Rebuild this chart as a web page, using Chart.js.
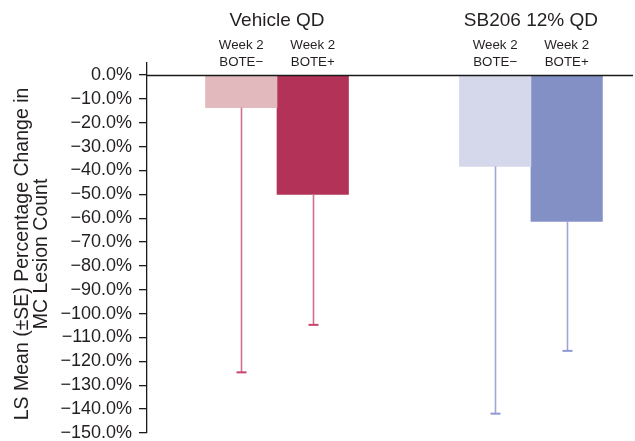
<!DOCTYPE html>
<html>
<head>
<meta charset="utf-8">
<script src="https://cdn.jsdelivr.net/npm/chart.js@4/dist/chart.umd.min.js"></script>
<style>
  html, body { margin: 0; padding: 0; background: #fff; overflow: hidden; }
  #wrap { width: 635px; height: 441px; }
</style>
</head>
<body>
<div id="wrap"><canvas id="c" width="635" height="441"></canvas></div>
<script>
// Treatment groups (top headers) and visit/subgroup labels for each bar
const groups = ['Vehicle QD', 'SB206 12% QD'];
const subgroups = ['Week 2\nBOTE\u2212', 'Week 2\nBOTE+'];

// LS mean percentage change, one array per subgroup (index = group)
const boteNeg = [-13.7, -38.3];
const botePos = [-50.1, -61.4];

// Standard errors (drawn below each bar)
const seNeg = [110.9, 103.6];
const sePos = [54.6, 54.2];

// Y-axis tick values
const yTicks = [0, -10, -20, -30, -40, -50, -60, -70, -80, -90, -100, -110, -120, -130, -140, -150];

const yTitle = ['LS Mean (\u00b1SE) Percentage Change in', 'MC Lesion Count'];

const FONT = '"Liberation Sans", Arial, Helvetica, sans-serif';
const TEXT = '#231f20';

const fillNeg = ['#e2b9bc', '#d5d7ea'];
const fillPos = ['#b33257', '#8390c6'];
const whisker = ['#d06f8d', '#9ea6d8'];
const capColor = ['#c9456c', '#8f99d2'];

const fmt = v => (Math.abs(v) < 1e-9 ? '0.0%' : v.toFixed(1).replace('-', '\u2212') + '%');

const errorBars = {
  id: 'errorBars',
  afterDatasetsDraw(chart) {
    const ctx = chart.ctx;
    const y = chart.scales.y;
    const seSets = [seNeg, sePos];
    chart.data.datasets.forEach((ds, di) => {
      const meta = chart.getDatasetMeta(di);
      meta.data.forEach((bar, i) => {
        const v = ds.data[i].y;
        const end = y.getPixelForValue(v - seSets[di][i]);
        const x = Math.round(bar.x) + 0.5;
        ctx.save();
        ctx.strokeStyle = whisker[i];
        ctx.lineWidth = 1.6;
        ctx.beginPath();
        ctx.moveTo(x, bar.y);
        ctx.lineTo(x, end);
        ctx.stroke();
        ctx.strokeStyle = capColor[i];
        ctx.lineWidth = 2;
        ctx.beginPath();
        ctx.moveTo(x - 5, end);
        ctx.lineTo(x + 5, end);
        ctx.stroke();
        ctx.restore();
      });
    });
  }
};

const decorations = {
  id: 'decorations',
  afterDatasetsDraw(chart) {
    const ctx = chart.ctx;
    const y = chart.scales.y;
    const area = chart.chartArea;
    ctx.save();
    // zero reference line
    const y0 = Math.round(y.getPixelForValue(0)) + 0.5;
    ctx.strokeStyle = '#1a1a1a';
    ctx.lineWidth = 1.4;
    ctx.beginPath();
    ctx.moveTo(area.left, y0);
    ctx.lineTo(area.right, y0);
    ctx.stroke();
    ctx.restore();
  },
  afterDraw(chart) {
    const ctx = chart.ctx;
    const x = chart.scales.x;
    ctx.save();
    ctx.fillStyle = TEXT;
    ctx.textAlign = 'center';
    ctx.textBaseline = 'alphabetic';
    // group headers
    ctx.font = '19px ' + FONT;
    groups.forEach((g, i) => {
      ctx.fillText(g, x.getPixelForValue(i), 26);
    });
    // subgroup labels above each bar
    ctx.font = '13.3px ' + FONT;
    [0, 1].forEach(di => {
      const meta = chart.getDatasetMeta(di);
      meta.data.forEach(bar => {
        const lines = subgroups[di].split('\n');
        ctx.fillText(lines[0], bar.x, 49);
        ctx.fillText(lines[1], bar.x, 65.5);
      });
    });
    // rotated y-axis title
    ctx.font = '19.5px ' + FONT;
    ctx.translate(0, 254);
    ctx.rotate(-Math.PI / 2);
    ctx.textBaseline = 'middle';
    ctx.fillText(yTitle[0], 0, 23);
    ctx.fillText(yTitle[1], 0, 42);
    ctx.restore();
  }
};

new Chart(document.getElementById('c'), {
  type: 'bar',
  data: {
    datasets: [
      {
        label: 'BOTE\u2212',
        data: boteNeg.map((v, i) => ({ x: i, y: v })),
        backgroundColor: fillNeg,
        borderWidth: 0,
        barThickness: 71.5
      },
      {
        label: 'BOTE+',
        data: botePos.map((v, i) => ({ x: i, y: v })),
        backgroundColor: fillPos,
        borderWidth: 0,
        barThickness: 71.5
      }
    ]
  },
  options: {
    responsive: false,
    animation: false,
    devicePixelRatio: 1,
    layout: { padding: { top: 63, right: 2, bottom: 8, left: 0 } },
    plugins: { legend: { display: false }, tooltip: { enabled: false } },
    scales: {
      x: {
        type: 'linear',
        display: false,
        offset: false,
        grid: { offset: false },
        min: -0.512,
        max: 1.402,
        ticks: { stepSize: 1, includeBounds: false }
      },
      y: {
        min: -150,
        max: 5,
        afterFit(s) { s.width = 147; s.paddingTop = 0; s.paddingBottom = 0; },
        afterBuildTicks(s) { s.ticks = yTicks.map(v => ({ value: v })); },
        border: { display: true, color: '#1a1a1a', width: 1.3 },
        grid: { drawOnChartArea: false, drawTicks: true, tickLength: 8, color: '#1a1a1a', lineWidth: 1.3 },
        ticks: {
          color: TEXT,
          padding: 7,
          font: { family: FONT, size: 18 },
          callback: v => fmt(v)
        }
      }
    }
  },
  plugins: [errorBars, decorations]
});
</script>
</body>
</html>
